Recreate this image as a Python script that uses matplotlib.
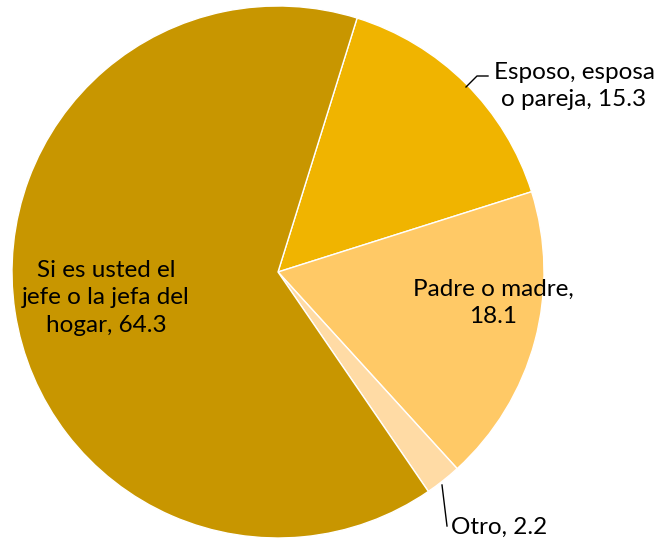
import matplotlib.pyplot as plt

# Datos
categorias = ['Esposo, esposa\no pareja', 'Padre o madre,\n', 'Otro', 'Si es usted el\njefe o la jefa del\nhogar']
valores = [15.3, 18.1, 2.2, 64.3]
colores = ['#F0B400', '#FFC966', '#FFDBA5', '#C89600']

plt.rcParams['font.family'] = ['Lato', 'DejaVu Sans']

fig = plt.figure(figsize=(6.61, 5.41), dpi=100)
# center at (278, 272) px, radius 266 px
ax = fig.add_axes([12 / 661, 3 / 541, 532 / 661, 532 / 541])

ax.pie(valores, colors=colores, startangle=72.7, counterclock=False,
       radius=1, wedgeprops={'edgecolor': 'white', 'linewidth': 1})
ax.set_xlim(-1, 1)
ax.set_ylim(-1, 1)
ax.set_aspect('equal')


def px(x, y):
    return (x - 278) / 266, (272 - y) / 266


fs = 17.5
t = ax.text(*px(574, 86), 'Esposo, esposa\no pareja, %.1f' % valores[0],
            ha='center', va='center', fontsize=fs, linespacing=1.4)
t.set_clip_on(False)
t = ax.text(*px(493, 303), 'Padre o madre,\n%.1f' % valores[1],
            ha='center', va='center', fontsize=fs, linespacing=1.4)
t = ax.text(*px(499, 527), 'Otro, %.1f' % valores[2],
            ha='center', va='center', fontsize=fs)
t.set_clip_on(False)
t = ax.text(*px(106, 298), 'Si es usted el\njefe o la jefa del\nhogar, %.1f' % valores[3],
            ha='center', va='center', fontsize=fs, linespacing=1.4)

# leader lines
xs, ys = zip(*[px(488, 76), px(477, 76), px(466, 87)])
ax.plot(xs, ys, color='black', lw=1, clip_on=False)
xs, ys = zip(*[px(442, 485), px(447, 526)])
ax.plot(xs, ys, color='black', lw=1, clip_on=False)

ax.axis('off')
fig.savefig('out.png', dpi=100)
